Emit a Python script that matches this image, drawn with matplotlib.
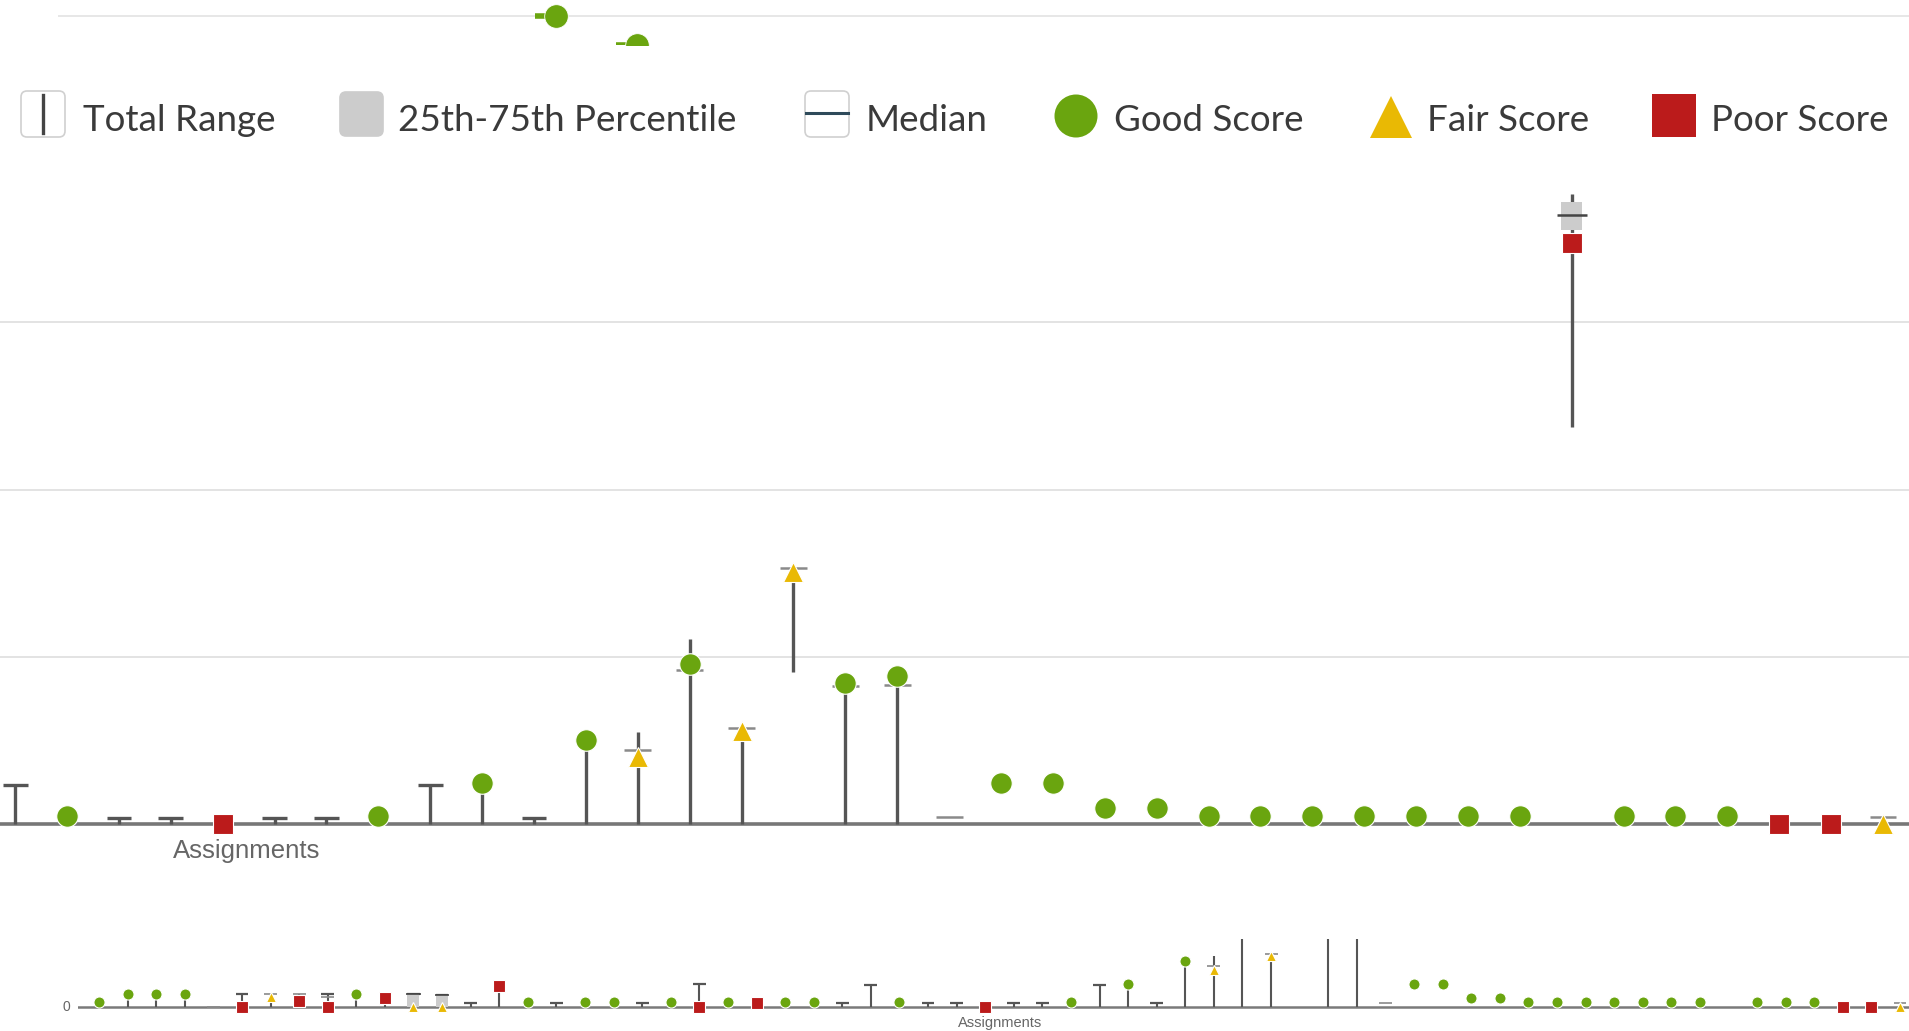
import numpy as np
import matplotlib
matplotlib.use("Agg")
import matplotlib.pyplot as plt
from matplotlib.patches import FancyBboxPatch, Polygon, Rectangle, Ellipse

nan = np.nan

# ---------------- data ----------------
# one entry per assignment (0..63)
low = [nan, 0, 0, 0, nan, 0, 0, 0, 0, 0,
       0, 0, 0, 0, 0, nan, 0, nan, nan, 0,
       nan, 0, nan, 0, nan, nan, 0, 0, nan, 0,
       0, nan, 0, 0, nan, 0, 0, 0, 0, 0,
       0, 0, 22.8, 0, 0, nan, nan, nan, nan, nan,
       nan, nan, nan, nan, nan, nan, nan, 59.4, nan, nan,
       nan, nan, nan, nan]
q1 = [nan] * 11 + [0.0, 0.0] + [nan] * 44 + [88.8] + [nan] * 6
median = [nan, nan, nan, nan, 0.0, nan, 3.6, 3.6, 2.7, nan,
          nan, 3.6, 3.1, nan, nan, nan, nan, nan, nan, nan,
          nan, nan, nan, nan, nan, nan, nan, nan, nan, nan,
          nan, nan, nan, nan, nan, nan, nan, nan, nan, 11.1,
          23.0, 14.4, 38.3, 20.6, 20.8, 1.1, nan, nan, nan, nan,
          nan, nan, nan, nan, nan, nan, nan, 91.0, nan, nan,
          nan, nan, nan, 1.1]
q3 = [nan] * 11 + [3.6, 3.1] + [nan] * 44 + [93.0] + [nan] * 6
high = [nan, 3.6, 3.6, 3.6, nan, 3.6, 3.6, 3.6, 3.6, 3.6,
        2.4, 3.6, 3.1, 1.0, 5.7, nan, 1.0, nan, nan, 1.0,
        nan, 6.2, nan, 1.1, nan, nan, 1.0, 5.9, nan, 1.0,
        1.0, nan, 1.0, 1.0, nan, 5.9, 6.2, 1.0, 12.6, 13.8,
        27.7, 14.4, 37.7, 21.1, 22.2, nan, nan, nan, nan, nan,
        nan, nan, nan, nan, nan, nan, nan, 94.1, nan, nan,
        nan, nan, nan, nan]
score = [1.3, 3.6, 3.6, 3.6, nan, 0.0, 2.7, 1.5, 0.0, 3.6,
         2.4, 0.0, 0.0, nan, 5.7, 1.3, nan, 1.3, 1.3, nan,
         1.3, 0.0, 1.3, 1.1, 1.3, 1.3, nan, nan, 1.3, nan,
         nan, 0.0, nan, nan, 1.3, nan, 6.2, nan, 12.6, 10.0,
         24.0, 13.9, 37.7, 21.1, 22.2, nan, 6.2, 6.2, 2.5, 2.5,
         1.3, 1.3, 1.3, 1.3, 1.3, 1.3, 1.3, 86.8, 1.3, 1.3,
         1.3, 0.0, 0.0, 0.0]
rating = ["good", "good", "good", "good", "", "poor", "fair", "poor", "poor", "good",
          "poor", "fair", "fair", "", "poor", "good", "", "good", "good", "",
          "good", "poor", "good", "poor", "good", "good", "", "", "good", "",
          "", "poor", "", "", "good", "", "good", "", "good", "fair",
          "good", "fair", "fair", "good", "good", "", "good", "good", "good", "good",
          "good", "good", "good", "good", "good", "good", "good", "poor", "good", "good",
          "good", "poor", "poor", "fair"]
assignments = np.arange(len(score))
main_first = 27  # first assignment shown in the main (zoomed) view

# partially visible chart above (cut off by the screenshot)
top_pos = [0, 1]
top_val = [100, 71]
top_grid = [100]

legend_labels = ["Total Range", "25th-75th Percentile", "Median",
                 "Good Score", "Fair Score", "Poor Score"]

# ---------------- style ----------------
GREEN, YELLOW, RED = "#6aa50f", "#e9b904", "#bb1b1b"
STEM, BOXC, MEDC = "#555555", "#cccccc", "#8a8a8a"
MK = {"good": ("o", GREEN), "fair": ("^", YELLOW), "poor": ("s", RED)}

W, H = 1909, 1031
fig = plt.figure(figsize=(W / 100, H / 100), dpi=100)


def px_axes(x, y, w, h, z=1):
    ax = fig.add_axes([x / W, 1 - (y + h) / H, w / W, h / H], zorder=z)
    ax.set_axis_off()
    return ax


def draw_boxes(ax, sel, capw, boxw, medw, stem_lw, cap_lw, med_lw, msz, clip):
    for i in sel:
        x = assignments[i]
        lo, hi = low[i], high[i]
        has_box = not np.isnan(q1[i])
        if not np.isnan(lo) and not np.isnan(hi) and hi > lo:
            ax.vlines(x, lo, hi, color=STEM, lw=stem_lw, zorder=3, clip_on=clip)
        if not np.isnan(hi) and (np.isnan(score[i]) or score[i] <= 0):
            ax.hlines(hi, x - capw / 2, x + capw / 2, color=STEM, lw=cap_lw,
                      zorder=3, clip_on=clip)
        if has_box:
            ax.bar(x, q3[i] - q1[i], bottom=q1[i], width=boxw, color=BOXC,
                   zorder=4, clip_on=clip)
        if not np.isnan(median[i]):
            c = "#444444" if has_box else MEDC
            w = medw * 1.1 if has_box else medw
            ax.hlines(median[i], x - w / 2, x + w / 2, color=c,
                      lw=med_lw, zorder=5, clip_on=clip)
        if rating[i] and not np.isnan(score[i]):
            m, c = MK[rating[i]]
            ax.plot([x], [score[i]], marker=m, color=c, ms=msz[m],
                    mec="white", mew=0.8, ls="none", zorder=6, clip_on=clip)


# ---------------- top strip (chart cut off above) ----------------
ts = px_axes(58, 0, W - 58, 45)
ts.set_xlim(-(556 - 58) / 81, (W - 556) / 81)
ts.set_ylim(71, 116)
for g in top_grid:
    ts.axhline(g, color="#e3e3e3", lw=1.2, zorder=1)
for p, v in zip(top_pos, top_val):
    ts.hlines(v, p - 0.26, p, color=GREEN, lw=4, zorder=2)
    ts.plot([p], [v], "o", color=GREEN, ms=17, mec="white", mew=0.6, zorder=3)

# ---------------- main chart ----------------
mtop, mbot = 178, 850
base_y, ppu = 824.3, 6.696
ax = px_axes(0, mtop, W, mbot - mtop)
ax.set_xlim(main_first - 15.2 / 51.9, 63 + (W - 1883) / 51.9)
ax.set_ylim(-(mbot - base_y) / ppu, (base_y - mtop) / ppu)
for g in [25, 50, 75]:
    ax.axhline(g, color="#e0e0e0", lw=1.3, zorder=1)
ax.axhline(0, color="#777777", lw=2.6, zorder=2)
draw_boxes(ax, range(main_first, 64), capw=0.48, boxw=0.40, medw=0.52,
           stem_lw=2.4, cap_lw=2.4, med_lw=1.8,
           msz={"o": 15.5, "^": 14, "s": 15}, clip=False)

fig.text(173 / W, 1 - 858 / H, "Assignments", fontsize=18.5, color="#666666",
         family="Liberation Sans", ha="left", va="baseline")

# ---------------- navigator ----------------
ntop, nbot = 939, 1013
nbase, nppu = 1006.7, 3.66
nx0 = 78
nav = px_axes(nx0, ntop, W - nx0, nbot - ntop)
nav.set_xlim((nx0 - 99) / 28.59, 63 + (W - 1900) / 28.59)
nav.set_ylim(-(nbot - nbase) / nppu, (nbase - ntop) / nppu)
nav.axhline(0, color="#7a7a7a", lw=1.8, zorder=2)
draw_boxes(nav, range(64), capw=0.45, boxw=0.42, medw=0.45,
           stem_lw=1.5, cap_lw=1.6, med_lw=1.2,
           msz={"o": 8, "^": 7.5, "s": 8}, clip=True)
fig.text(70 / W, 1 - 1007 / H, "0", fontsize=10, color="#666666",
         family="Liberation Sans", ha="right", va="center")
fig.text(1000 / W, 1 - 1027 / H, "Assignments", fontsize=10.5, color="#666666",
         family="Liberation Sans", ha="center", va="baseline")

# ---------------- legend ----------------
lg = px_axes(0, 0, W, H, z=10)
lg.set_xlim(0, W)
lg.set_ylim(H, 0)


def rbox(x0, y0, w, h, fc, ec):
    lg.add_patch(FancyBboxPatch((x0 + 6, y0 + 6), w - 12, h - 12,
                                boxstyle="round,pad=6", fc=fc, ec=ec, lw=1.2))


rbox(21, 91, 44, 46, "white", "#d0d0d0")
lg.plot([43, 43], [95, 133], color="#444444", lw=2.4)
rbox(340, 92, 43, 44, BOXC, BOXC)
rbox(805, 91, 44, 46, "white", "#d0d0d0")
lg.plot([806, 848], [113, 113], color="#2e4a5a", lw=2.2)
lg.add_patch(Ellipse((1076, 116), 43, 43, fc=GREEN, ec="none"))
lg.add_patch(Polygon([[1370, 138], [1412, 138], [1391, 96]], closed=True,
                     fc=YELLOW, ec="none"))
lg.add_patch(Rectangle((1652, 94), 44, 43, fc=RED, ec="none"))

text_x = [83, 398, 866, 1114, 1427, 1711]
for tx, lab in zip(text_x, legend_labels):
    lg.text(tx, 131, lab, fontsize=26.5, color="#3a3a3a", family="Lato",
            ha="left", va="baseline")

fig.savefig("out.png", dpi=100)
